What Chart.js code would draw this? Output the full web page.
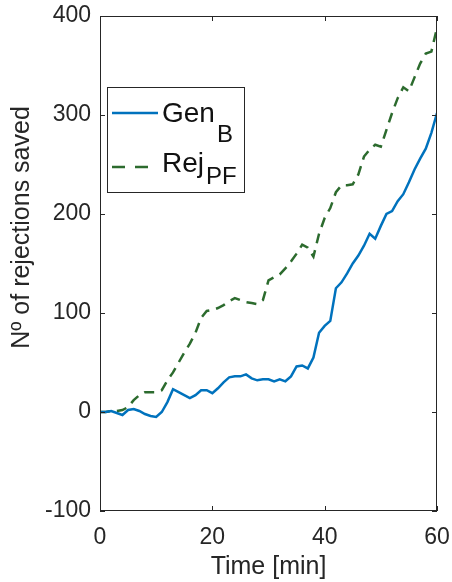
<!DOCTYPE html>
<html><head><meta charset="utf-8">
<script src="https://cdn.jsdelivr.net/npm/chart.js@4.4.0/dist/chart.umd.min.js"></script>
<style>html,body{margin:0;padding:0;background:#fff;overflow:hidden}canvas{display:block}</style>
</head><body>
<canvas id="c" width="452" height="582"></canvas>
<script>
// ---- data ----
const minutes = [0,1,2,3,4,5,6,7,8,9,10,11,12,13,14,15,16,17,18,19,20,21,22,23,24,25,26,27,28,29,30,31,32,33,34,35,36,37,38,39,40,41,42,43,44,45,46,47,48,49,50,51,52,53,54,55,56,57,58,59,60];
const genB = [0,0,1,-1,-3,2,3,1,-2,-4,-5,0,10,23,20,17,14,17,22,22,19,24,30,35,36,36,38,34,32,33,33,31,33,31,36,46,47,44,55,80,87,92,125,131,140,150,158,168,180,175,188,200,203,213,220,232,245,256,266,282,302];
const rejPF = [0,0,1,1,2,5,12,17,20,20,20,22,32,40,50,60,69,80,95,102,103,105,108,112,115,113,111,110,109,113,133,136,139,145,152,160,169,166,157,180,196,206,222,229,229,230,240,258,265,270,268,285,302,317,328,324,338,352,362,364,388];
const xTicks = [0,20,40,60];
const yTicks = [-100,0,100,200,300,400];
const seriesNames = [{main:'Gen', sub:'B'}, {main:'Rej', sub:'PF'}];
const xTitle = 'Time [min]';
const yTitle = 'Nº of rejections saved';

const FONT = '"Liberation Sans", Arial, Helvetica, sans-serif';
const AX = '#262626';
const BLUE = '#0072BD';
const GREEN = '#2c6b2e';

const toPts = arr => minutes.map((m,i)=>({x:m,y:arr[i]}));

const boxPlugin = {
  id:'boxTicks',
  afterDatasetsDraw(chart){
    const {ctx, chartArea:a, scales:{x,y}} = chart;
    ctx.save();
    ctx.strokeStyle = AX; ctx.lineWidth = 1;
    ctx.strokeRect(a.left+0.5, a.top+0.5, a.right-a.left-1, a.bottom-a.top-1);
    const L = 5;
    ctx.beginPath();
    xTicks.forEach(v=>{const px=Math.round(x.getPixelForValue(v))+0.5;
      ctx.moveTo(px,a.bottom); ctx.lineTo(px,a.bottom-L);
      ctx.moveTo(px,a.top); ctx.lineTo(px,a.top+L);});
    yTicks.forEach(v=>{const py=Math.round(y.getPixelForValue(v))+0.5;
      ctx.moveTo(a.left,py); ctx.lineTo(a.left+L,py);
      ctx.moveTo(a.right,py); ctx.lineTo(a.right-L,py);});
    ctx.stroke();
    // y title
    ctx.fillStyle = AX;
    ctx.font = '25px ' + FONT;
    ctx.textAlign='center'; ctx.textBaseline='middle';
    ctx.translate(a.left-78, (a.top+a.bottom)/2-36);
    ctx.rotate(-Math.PI/2);
    ctx.fillText(yTitle,0,0);
    ctx.restore();
  }
};

const legendPlugin = {
  id:'customLegend',
  afterDraw(chart){
    const {ctx, chartArea:a} = chart;
    const L = a.left+7, T = a.top+71, W = 137, H = 105;
    ctx.save();
    ctx.fillStyle='#fff'; ctx.fillRect(L,T,W,H);
    ctx.strokeStyle=AX; ctx.lineWidth=1; ctx.strokeRect(L+0.5,T+0.5,W,H);
    const ds = chart.data.datasets;
    const rows = [{ly:T+26, base:T+35, subOff:20},{ly:T+80, base:T+85, subOff:12}];
    rows.forEach((r,i)=>{
      ctx.strokeStyle = ds[i].borderColor; ctx.lineWidth = 2.5;
      ctx.setLineDash(i===1?[13,10]:[]);
      ctx.beginPath(); ctx.moveTo(L+5,r.ly); ctx.lineTo(L+51,r.ly); ctx.stroke();
      ctx.setLineDash([]);
      ctx.fillStyle = '#111';
      ctx.textBaseline='alphabetic'; ctx.textAlign='left';
      ctx.font = '28px ' + FONT;
      const tx = L+55;
      ctx.fillText(seriesNames[i].main, tx, r.base);
      const w = ctx.measureText(seriesNames[i].main).width;
      ctx.font = '24px ' + FONT;
      ctx.fillText(seriesNames[i].sub, tx+w+2, r.base+r.subOff);
    });
    ctx.restore();
  }
};

new Chart(document.getElementById('c'), {
  type:'line',
  data:{datasets:[
    {label:'GenB', data:toPts(genB), borderColor:BLUE, borderWidth:2.5, pointRadius:0, tension:0, fill:false},
    {label:'RejPF', data:toPts(rejPF), borderColor:GREEN, borderWidth:2.5, borderDash:[10,7], pointRadius:0, tension:0, fill:false}
  ]},
  options:{
    responsive:false, animation:false, devicePixelRatio:1,
    layout:{padding:{top:16,right:15,left:0,bottom:0}},
    plugins:{legend:{display:false}, tooltip:{enabled:false}},
    scales:{
      x:{type:'linear', min:0, max:60,
        afterBuildTicks(s){s.ticks = xTicks.map(v=>({value:v}));},
        afterFit(s){s.height=71; s.paddingLeft=0; s.paddingRight=0; s.paddingTop=0; s.paddingBottom=0;},
        grid:{display:false, drawTicks:false}, border:{display:false},
        ticks:{color:AX, font:{family:FONT,size:23}, padding:13, maxRotation:0},
        title:{display:true, text:xTitle, color:AX, font:{family:FONT,size:25}, padding:{top:0,bottom:0}}
      },
      y:{type:'linear', min:-100, max:400,
        afterBuildTicks(s){s.ticks = yTicks.map(v=>({value:v}));},
        afterFit(s){s.width=100; s.paddingLeft=0; s.paddingRight=0; s.paddingTop=0; s.paddingBottom=0;},
        grid:{display:false, drawTicks:false}, border:{display:false},
        ticks:{color:AX, font:{family:FONT,size:23}, padding:9}
      }
    }
  },
  plugins:[boxPlugin, legendPlugin]
});
</script>
</body></html>
